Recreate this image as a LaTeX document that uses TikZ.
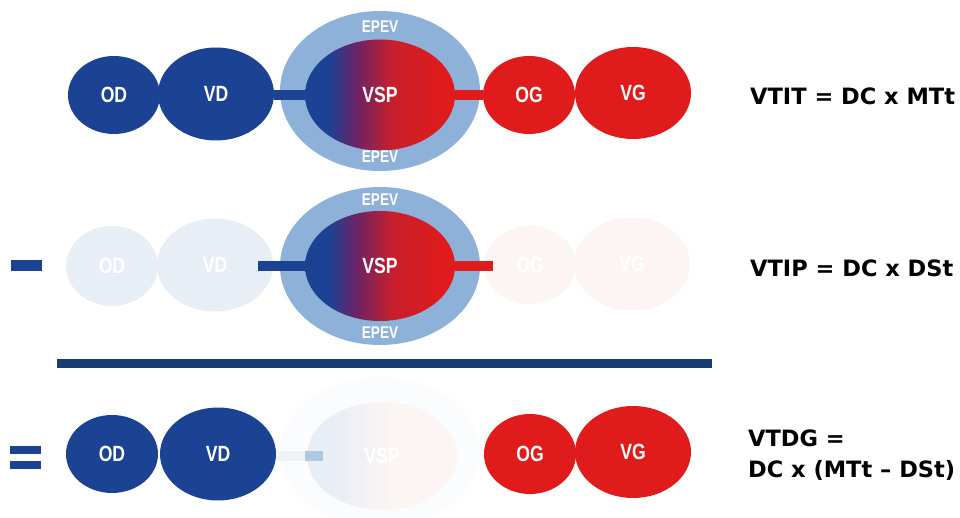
\documentclass[tikz,border=0pt]{standalone}
\usepackage{fontspec}
\usepackage{xcolor}
\usepackage{tikz}
\usetikzlibrary{shapes.geometric}

\newfontfamily\organfont{Liberation Sans}[FakeStretch=0.8]
\newfontfamily\formulafont{DejaVu Sans}

\definecolor{darkblue}{HTML}{1C4294}
\definecolor{darkred}{HTML}{E01B1B}
\definecolor{septred}{HTML}{C81F2C}
\definecolor{septmid}{HTML}{6A2366}
\definecolor{ringblue}{HTML}{8DB1D9}
\definecolor{paleblue}{HTML}{E7EEF5}
\definecolor{palepink}{HTML}{FCF5F3}
\definecolor{navy}{HTML}{173C70}

\pgfdeclarehorizontalshading{vspshade}{100bp}{color(0bp)=(darkblue);
  color(33bp)=(darkblue); color(42bp)=(septmid); color(54bp)=(septred);
  color(72bp)=(darkred); color(100bp)=(darkred)}
\pgfdeclarehorizontalshading{palevspshade}{100bp}{color(0bp)=(paleblue);
  color(33bp)=(paleblue); color(54bp)=(palepink); color(100bp)=(palepink)}

\begin{document}
\begin{tikzpicture}[x=1pt,y=-1pt,
    organ/.style={ellipse, inner sep=0pt, text=white,
      font=\organfont\bfseries\fontsize{22pt}{22pt}\selectfont},
    small/.style={organ, minimum width=92pt, minimum height=78pt},
    big/.style={organ, minimum width=116pt, minimum height=93pt},
    ring/.style={ellipse, inner sep=0pt, minimum width=200pt, minimum height=160pt},
    septum/.style={organ, minimum width=150pt, minimum height=111pt,
      shading=vspshade},
    ringlabel/.style={text=white, inner sep=0pt,
      font=\organfont\bfseries\fontsize{17pt}{17pt}\selectfont},
    bar/.style={line width=10pt},
    formula/.style={anchor=west, inner sep=0pt, align=left,
      font=\formulafont\bfseries\fontsize{22.5pt}{31pt}\selectfont}]
    \useasboundingbox (0,0) rectangle (960,518);

    % full heart
    \node[small, fill=darkblue] (od1) at (114,95) {OD};
    \node[big, fill=darkblue] (vd1) at (216,94) {VD};
    \node[ring, fill=ringblue] (epev1) at (380,91) {};
    \node[septum] (vsp1) at (380,95) {VSP};
    \node[small, fill=darkred] (og1) at (529,95) {OG};
    \node[big, fill=darkred, minimum height=92pt] (vg1) at (633,93) {VG};
    \node[ringlabel] at (380,27) {EPEV};
    \node[ringlabel] at (380,157) {EPEV};
    \draw[bar, darkblue] (vd1.east |- vsp1.west) -- (vsp1.west);
    \draw[bar, darkred] (vsp1.east) -- (vsp1.east -| og1.west);
    \node[formula] (vtit) at (750,96) {VTIT = DC x MTt};

    % septum only
    \coordinate (minusL) at (11,266);
    \coordinate (minusR) at (42,266);
    \draw[line width=11pt, darkblue] (minusL) -- (minusR);
    \node[small, fill=paleblue, minimum height=80pt] (od2) at (112,266) {OD};
    \node[big, fill=paleblue] (vd2) at (215,265) {VD};
    \node[ring, fill=ringblue, minimum height=158pt] (epev2) at (380,266) {};
    \node[septum, minimum height=110pt] (vsp2) at (380,266) {VSP};
    \node[small, fill=palepink, text=white] (og2) at (530,265) {OG};
    \node[big, fill=palepink, text=white] (vg2) at (632,264) {VG};
    \node[ringlabel] at (380,200) {EPEV};
    \node[ringlabel] at (380,333) {EPEV};
    \draw[bar, darkblue] ([xshift=-15pt]vd2.east |- vsp2.west) -- (vsp2.west);
    \draw[bar, darkred] (vsp2.east) -- ([xshift=9pt]vsp2.east -| og2.west);
    \node[formula] (vtip) at (750,268) {VTIP = DC x DSt};

    % result line
    \coordinate (lineL) at (57,363);
    \coordinate (lineR) at (712,363);
    \draw[line width=9pt, navy] (lineL) -- (lineR);

    % free walls
    \coordinate (eqL1) at (10,450);
    \coordinate (eqR1) at (41,450);
    \coordinate (eqL2) at (10,465);
    \coordinate (eqR2) at (41,465);
    \draw[line width=8pt, darkblue] (eqL1) -- (eqR1);
    \draw[line width=8pt, darkblue] (eqL2) -- (eqR2);
    \node[small, fill=darkblue] (od3) at (112,454) {OD};
    \node[big, fill=darkblue] (vd3) at (218,454) {VD};
    \node[ring, fill=paleblue!15, minimum height=150pt] (epev3) at (380,452) {};
    \node[septum, shading=palevspshade, minimum height=108pt] (vsp3) at (382,456) {VSP};
    \node[small, fill=darkred, minimum height=80pt] (og3) at (530,454) {OG};
    \node[big, fill=darkred, minimum height=92pt] (vg3) at (633,452) {VG};
    \draw[bar, paleblue!70] (vd3.east |- vsp3.west) -- (vsp3.west);
    \draw[bar, ringblue!70] ([xshift=-2pt]vsp3.west) -- ([xshift=16pt]vsp3.west);
    \node[formula] (vtdg) at (748,455) {VTDG =\\DC x (MTt – DSt)};
\end{tikzpicture}
\end{document}
